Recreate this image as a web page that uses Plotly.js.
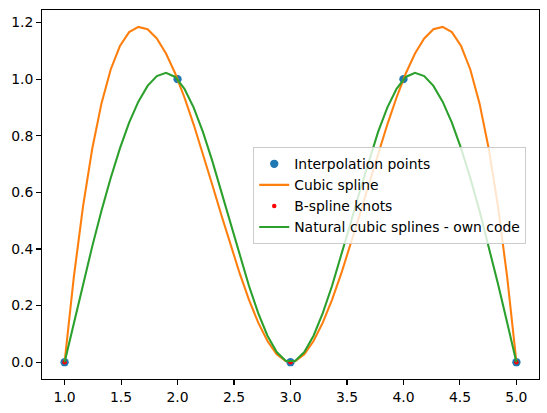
<!DOCTYPE html>
<html>
<head>
<meta charset="utf-8">
<script src="https://cdn.plot.ly/plotly-3.0.1.min.js"></script>
<style>html,body{margin:0;padding:0;background:#fff;}#chart{width:547px;height:413px;}</style>
</head>
<body>
<div id="chart"></div>
<script>
// Interpolation points
const pointsX = [1, 2, 3, 4, 5];
const pointsY = [0, 1, 0, 1, 0];

// B-spline knots
const knotsX = [1, 3, 5];
const knotsY = [0, 0, 0];

// Sample positions of the curves
const curveX = [1.0, 1.0816, 1.1633, 1.2449, 1.3265, 1.4082, 1.4898, 1.5714, 1.6531, 1.7347,
  1.8163, 1.8980, 1.9796, 2.0612, 2.1429, 2.2245, 2.3061, 2.3878, 2.4694, 2.5510,
  2.6327, 2.7143, 2.7959, 2.8776, 2.9592, 3.0408, 3.1224, 3.2041, 3.2857, 3.3673,
  3.4490, 3.5306, 3.6122, 3.6939, 3.7755, 3.8571, 3.9388, 4.0204, 4.1020, 4.1837,
  4.2653, 4.3469, 4.4286, 4.5102, 4.5918, 4.6735, 4.7551, 4.8367, 4.9184, 5.0];

// Cubic spline (orange)
const cubicY = [0, 0.3004, 0.5508, 0.7544, 0.9144, 1.0343, 1.1171, 1.1662, 1.1848, 1.1762,
  1.1437, 1.0906, 1.0200, 0.9353, 0.8397, 0.7364, 0.6289, 0.5202, 0.4137, 0.3127,
  0.2203, 0.1399, 0.0748, 0.0282, 0.0033, 0.0033, 0.0282, 0.0748, 0.1399, 0.2203,
  0.3127, 0.4137, 0.5202, 0.6289, 0.7364, 0.8397, 0.9353, 1.0200, 1.0906, 1.1437,
  1.1762, 1.1848, 1.1662, 1.1171, 1.0343, 0.9144, 0.7544, 0.5508, 0.3004, 0];

// Natural cubic splines - own code (green)
const naturalY = [0, 0.1396, 0.2768, 0.4093, 0.5349, 0.6511, 0.7557, 0.8463, 0.9206, 0.9762,
  1.0109, 1.0222, 1.0079, 0.9661, 0.8996, 0.8136, 0.7131, 0.6032, 0.4892, 0.3761,
  0.2691, 0.1733, 0.0937, 0.0357, 0.0042, 0.0042, 0.0357, 0.0937, 0.1733, 0.2691,
  0.3761, 0.4892, 0.6032, 0.7131, 0.8136, 0.8996, 0.9661, 1.0079, 1.0222, 1.0109,
  0.9762, 0.9206, 0.8463, 0.7557, 0.6511, 0.5349, 0.4093, 0.2768, 0.1396, 0];

const xTicks = [1.0, 1.5, 2.0, 2.5, 3.0, 3.5, 4.0, 4.5, 5.0];
const yTicks = [0.0, 0.2, 0.4, 0.6, 0.8, 1.0, 1.2];

const traces = [
  {x: pointsX, y: pointsY, mode: 'markers', name: 'Interpolation points',
   marker: {color: '#1f77b4', size: 8.3}},
  {x: curveX, y: cubicY, mode: 'lines', name: 'Cubic spline',
   line: {color: '#ff7f0e', width: 2.08}},
  {x: knotsX, y: knotsY, mode: 'markers', name: 'B-spline knots',
   marker: {color: '#ff0000', size: 4.5}},
  {x: curveX, y: naturalY, mode: 'lines', name: 'Natural cubic splines - own code',
   line: {color: '#2ca02c', width: 2.08}}
];

const axisCommon = {
  showgrid: false, zeroline: false, showline: true, mirror: true,
  linecolor: '#000', linewidth: 1.1, ticks: 'outside', ticklen: 4.9,
  tickwidth: 1.1, tickcolor: '#000', tickformat: '.1f',
  tickfont: {family: 'DejaVu Sans', size: 13.9, color: '#000'}
};

const layout = {
  width: 547, height: 413,
  margin: {l: 42, r: 8, t: 10, b: 34},
  paper_bgcolor: '#fff', plot_bgcolor: '#fff',
  font: {family: 'DejaVu Sans', size: 13.9, color: '#000'},
  xaxis: Object.assign({}, axisCommon, {range: [0.8, 5.2], tickvals: xTicks}),
  yaxis: Object.assign({}, axisCommon, {range: [-0.0593, 1.2444], tickvals: yTicks}),
  showlegend: true,
  legend: {x: 0.425, y: 0.628, xanchor: 'left', yanchor: 'top',
    bgcolor: 'rgba(255,255,255,0.8)', bordercolor: '#cccccc', borderwidth: 1,
    font: {family: 'DejaVu Sans', size: 13.9, color: '#000'}, tracegroupgap: 0}
};

Plotly.newPlot('chart', traces, layout, {displayModeBar: false, staticPlot: true});
</script>
</body>
</html>
